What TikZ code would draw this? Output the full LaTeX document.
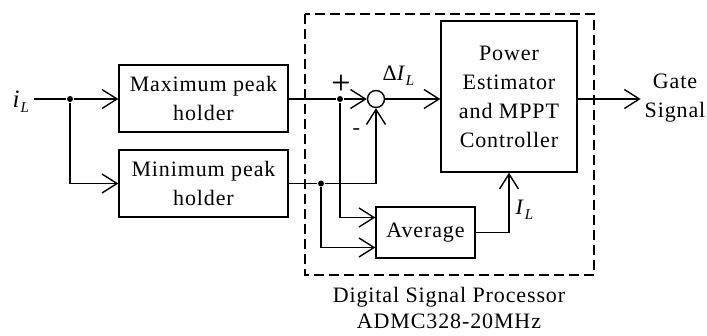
\documentclass[tikz,border=0pt]{standalone}
\usepackage{fontspec}
\setmainfont[LetterSpace=4]{Liberation Serif}
\usetikzlibrary{arrows.meta}
\newcommand{\subL}{\raisebox{-5pt}{\fontsize{15}{15}\selectfont\textit{L}}}
\begin{document}
\begin{tikzpicture}[x=1pt, y=-1pt, line width=1.4pt,
    >={Straight Barb[length=15pt, width=19pt, line width=1.4pt]},
    font=\fontsize{22}{29}\selectfont,
    block/.style={draw, align=center, inner sep=0pt},
    dot/.style={circle, fill, inner sep=0pt, minimum size=6pt}]
    \useasboundingbox (0,0) rectangle (707,335);
    \node[anchor=base west, inner sep=0pt] (iL) at (12,107) {{\fontsize{25}{25}\selectfont\textit{i}}\subL};
    \node[block, minimum width=169pt, minimum height=67pt] (maxhold) at (203.5,98.5) {Maximum peak\\holder};
    \node[block, minimum width=169pt, minimum height=67pt] (minhold) at (203.5,183.5) {Minimum peak\\holder};
    \node[draw, circle, minimum size=17pt, inner sep=0pt] (sum) at (376,99) {};
    \node[block, minimum width=136pt, minimum height=151pt] (est) at (509,96.5) {Power\\Estimator\\and MPPT\\Controller};
    \node[block, minimum width=99pt, minimum height=51pt] (avg) at (425.5,232.5) {Average};
    \node[align=center] (gate) at (675,98) {Gate\\Signal};
    \node[dot] (s1) at (70,99) {};
    \node[dot] (s2) at (340,99) {};
    \node[dot] (s3) at (321,183.5) {};
    \draw[dashed, dash pattern=on 10pt off 5pt, line width=1.3pt] (305,14) rectangle (594,275);
    \draw[->] ([xshift=4pt]iL.east |- s1) -- (s1) -- (maxhold.west |- s1);
    \draw[->] (s1) |- (minhold.west);
    \draw[->] (maxhold.east |- s2) -- (s2) -- (sum.west);
    \draw[->] (minhold.east) -- (s3) -| (sum.south);
    \draw[->] (s2) |- ([yshift=15pt]avg.west);
    \draw[->] (s3) |- ([yshift=-15pt]avg.west);
    \draw[->] (sum.east) -- (sum -| est.west);
    \draw[->] (avg.east) -| (est.south);
    \draw[->] (sum -| est.east) -- (sum -| gate.west);
    \node at (341,83) {\textsf{\textbf{+}}};
    \node at (357,132) {\textsf{\textbf{-}}};
    \node[anchor=base west, inner sep=0pt] at (382,80) {Δ\textit{I}\subL};
    \node[anchor=base west, inner sep=0pt] at (515,214) {\textit{I}\subL};
    \node[align=center, font=\fontsize{22}{26}\selectfont] (dsp) at (449,308) {Digital Signal Processor\\ADMC328-20MHz};
\end{tikzpicture}
\end{document}
